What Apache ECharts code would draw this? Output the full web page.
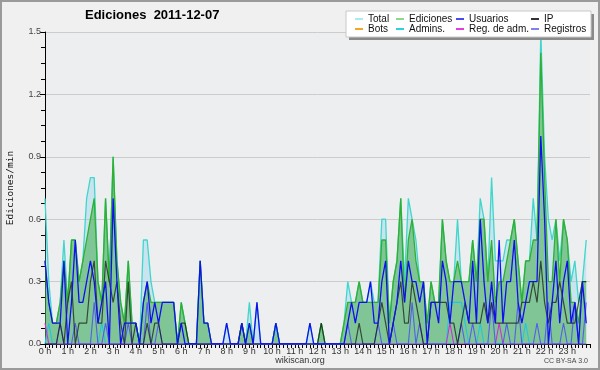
<!DOCTYPE html>
<html>
<head>
<meta charset="utf-8">
<script src="https://cdn.jsdelivr.net/npm/echarts@6/dist/echarts.min.js"></script>
<style>html,body{margin:0;padding:0;background:#f0f0f0}#c{width:600px;height:370px}</style>
</head>
<body>
<div id="c"></div>
<script>
// 10-minute bins, 144 per day (edits per minute)
const total = [
0.7,0.3,0.1,0.1,0.2,0.5, 0.2,0.5,0.5,0.3,0.4,0.7, 0.8,0.8,0.3,0.2,0.7,0.3, 0.9,0.4,0.2,0.1,0.4,0.1,
0.1,0,0.5,0.5,0.3,0.2, 0.2,0.2,0.2,0.2,0.2,0, 0.2,0.1,0,0,0,0.4, 0.1,0.1,0,0,0,0,
0.1,0,0,0,0.1,0, 0.2,0,0.2,0,0,0, 0,0.1,0,0,0,0, 0,0,0,0,0.1,0,
0,0.1,0,0,0,0, 0,0.1,0.3,0.2,0.2,0.3, 0.2,0.2,0.3,0.2,0.2,0.6, 0.6,0.1,0.3,0.4,0.7,0.3,
0.7,0.6,0.5,0.3,0.3,0.1, 0.3,0.2,0.2,0.6,0.4,0.3, 0.3,0.6,0.3,0.3,0.3,0.5, 0.3,0.7,0.6,0.3,0.8,0.4,
0.4,0.4,0.5,0.5,0.6,0.4, 0.2,0.4,0.4,0.7,0.5,1.5, 0.9,0.6,0.5,0.6,0.4,0.6, 0.5,0.3,0.4,0.2,0.3,0.5];
const ediciones = [
0.4,0.2,0.1,0.1,0.2,0.4, 0.2,0.5,0.5,0.3,0.4,0.5, 0.6,0.7,0.3,0.2,0.7,0.3, 0.9,0.4,0.2,0.1,0.4,0.1,
0.1,0,0.2,0.3,0.2,0.2, 0.2,0.2,0.2,0.2,0.2,0, 0.2,0.1,0,0,0,0.4, 0.1,0.1,0,0,0,0,
0,0,0,0,0.1,0, 0.1,0,0,0,0,0, 0,0.1,0,0,0,0, 0,0,0,0,0,0,
0,0.1,0,0,0,0, 0,0.1,0.2,0.2,0.2,0.3, 0.2,0.2,0.2,0.2,0.2,0.5, 0.5,0.1,0.3,0.4,0.7,0.2,
0.5,0.6,0.4,0.3,0.3,0.1, 0.3,0.2,0.2,0.6,0.4,0.3, 0.3,0.4,0.3,0.3,0.3,0.5, 0.3,0.6,0.6,0.3,0.5,0.2,
0.3,0.3,0.4,0.5,0.6,0.4, 0.2,0.4,0.4,0.5,0.5,1.4, 0.8,0.3,0.3,0.6,0.3,0.6, 0.5,0.2,0.2,0.1,0.3,0.3];
const usuarios = [
0.4,0.2,0.1,0.1,0.1,0.4, 0,0.2,0.5,0.2,0.2,0.3, 0.4,0.3,0.1,0.2,0.3,0, 0.7,0.3,0,0.1,0.1,0.1,
0.1,0,0.2,0.3,0.1,0.2, 0.1,0.2,0.2,0.2,0.2,0, 0.1,0,0,0,0,0.4, 0.1,0.1,0,0,0,0,
0.1,0,0,0,0.1,0, 0.1,0,0.2,0,0,0, 0,0.1,0,0,0,0, 0,0,0,0,0.1,0,
0,0,0,0,0,0, 0,0,0.1,0.2,0.1,0.2, 0.2,0.2,0.3,0.1,0.1,0.3, 0.4,0,0.1,0.2,0.4,0.2,
0.4,0.3,0.3,0.2,0.3,0, 0.2,0.2,0.1,0.4,0.3,0.1, 0.3,0.3,0.3,0.2,0.1,0.4, 0.1,0.6,0.3,0.1,0.3,0.1,
0.5,0.1,0.3,0.3,0.5,0.2, 0.1,0.2,0.3,0.3,0.3,1.0, 0.6,0,0.2,0.4,0.1,0.3, 0.4,0.1,0.2,0,0.3,0.1];
const ip = [
0,0,0,0,0.1,0, 0.2,0.3,0,0.1,0.1,0.1, 0.3,0.4,0.1,0.1,0.4,0.3, 0.2,0.3,0.1,0,0.3,0,
0.1,0,0,0.1,0,0.1, 0.1,0,0,0,0,0, 0.1,0.1,0,0,0,0, 0,0,0,0,0,0,
0,0,0,0,0.1,0, 0,0,0,0,0,0, 0,0,0,0,0,0, 0,0,0,0,0,0,
0,0.1,0,0,0,0, 0,0,0,0,0,0.1, 0,0,0,0,0.1,0.2, 0.1,0,0.1,0.2,0.3,0.1,
0.1,0.3,0.2,0.1,0,0, 0.2,0.2,0.2,0.2,0.2,0.1, 0.1,0,0.1,0.2,0.1,0.1, 0.1,0.1,0.2,0.1,0.2,0.1,
0.1,0.1,0.1,0.1,0.1,0.1, 0.2,0.2,0.2,0.3,0.2,0.4, 0.2,0.1,0.2,0.2,0.3,0.2, 0.1,0.1,0.1,0.2,0.3,0.3];
const registros = [
0,0,0,0,0.1,0, 0,0,0.1,0,0,0, 0,0.2,0,0,0.1,0, 0,0,0,0,0.1,0,
0,0,0,0.2,0,0, 0.1,0,0,0,0,0, 0,0,0,0,0,0, 0,0,0,0,0,0,
0,0,0,0,0,0, 0,0,0,0,0,0, 0,0,0,0,0,0, 0,0,0,0,0,0,
0,0,0,0,0,0, 0,0,0.1,0,0,0, 0,0,0,0,0.1,0, 0,0,0.1,0,0,0,
0,0.2,0,0.1,0,0, 0,0,0,0,0,0, 0,0,0.1,0,0,0.1, 0,0,0,0,0.2,0,
0,0,0.1,0,0,0.2, 0,0,0,0,0.1,0, 0,0.2,0,0,0,0.1, 0,0,0.2,0,0,0.2];
const admins = [
0,0.1,0,0,0,0, 0,0,0,0,0,0, 0,0,0,0.1,0,0, 0,0,0,0,0,0,
0,0,0,0,0,0, 0,0,0,0,0,0, 0,0,0,0,0,0, 0,0,0,0,0,0,
0,0,0,0,0,0, 0,0,0,0,0,0, 0,0.1,0,0,0,0, 0,0,0,0,0,0,
0,0,0,0,0,0, 0,0,0,0,0,0, 0,0,0,0,0,0, 0,0,0,0,0,0,
0,0,0,0,0,0, 0,0,0,0,0,0.2, 0.2,0.2,0.2,0.1,0,0, 0,0.1,0,0,0,0,
0,0,0,0,0,0, 0,0.1,0,0,0,0, 0,0,0,0,0,0, 0,0,0,0,0,0];
const regAdm = [
0.1,0,0,0,0,0, 0,0,0,0,0,0, 0,0,0,0,0,0, 0,0,0,0,0,0,
0,0,0,0,0,0, 0,0,0,0,0,0, 0,0,0,0,0,0, 0,0,0,0,0,0,
0,0,0,0,0,0, 0,0,0,0,0,0, 0,0,0,0,0,0, 0,0,0,0,0,0,
0,0,0,0,0,0, 0,0,0,0,0,0, 0,0,0,0,0,0, 0,0,0,0,0,0,
0,0,0,0,0,0, 0,0,0,0,0,0.1, 0,0,0,0,0,0, 0,0,0,0,0,0,
0.1,0,0,0,0,0, 0,0,0,0,0,0, 0,0,0,0,0,0, 0,0,0,0,0,0];
const bots = [];
const yTicks = [0, 0.3, 0.6, 0.9, 1.2, 1.5];
const titleText = 'Ediciones  2011-12-07';

const pairs = a => a.map((v, i) => [i, v]);
const FONT = 'Liberation Sans';
const chart = echarts.init(document.getElementById('c'), null, {renderer: 'canvas'});

function legendCol(left, items) {
  return {
    left: left, top: 14, orient: 'vertical', padding: 0, itemGap: 0,
    itemWidth: 8, itemHeight: 2, icon: 'rect', selectedMode: false, z: 20,
    textStyle: {fontSize: 10, fontFamily: FONT, color: '#111', lineHeight: 10},
    data: items.map(([n, c]) => ({name: n, itemStyle: {color: c}}))
  };
}

function lineSeries(name, data, color, width, z, area) {
  const s = {
    name, type: 'line', data: pairs(data), symbol: 'none', z: z,
    lineStyle: {color, width}, itemStyle: {color}, animation: false
  };
  if (area) s.areaStyle = {color: area, opacity: 1};
  return s;
}

chart.setOption({
  backgroundColor: '#f0f0f0',
  animation: false,
  title: {
    text: titleText, left: 85, top: 9, padding: 0,
    textStyle: {fontSize: 13, fontWeight: 'bold', fontFamily: FONT, color: '#000'}
  },
  legend: [
    legendCol(355, [['Total', '#a8ecec'], ['Bots', '#f5a623']]),
    legendCol(396, [['Ediciones', '#8cd88c'], ['Admins.', '#30d0e0']]),
    legendCol(456, [['Usuarios', '#4a4af0'], ['Reg. de adm.', '#e040e0']]),
    legendCol(531, [['IP', '#333333'], ['Registros', '#8080f0']])
  ],
  grid: {left: 45, right: 10, top: 32, bottom: 26, show: true, backgroundColor: '#eceef0',
    borderWidth: 0, containLabel: false, outerBoundsMode: 'none'},
  xAxis: {
    type: 'value', min: 0, max: 144, interval: 6,
    axisLine: {lineStyle: {color: '#000', width: 1}},
    axisTick: {length: 4, lineStyle: {color: '#000'}},
    minorTick: {show: true, splitNumber: 6, length: 4, lineStyle: {color: '#000'}},
    splitLine: {show: false},
    axisLabel: {fontSize: 9, fontFamily: FONT, color: '#333', margin: 3, showMaxLabel: false,
      formatter: v => (v / 6) + ' h'}
  },
  yAxis: {
    type: 'value', min: yTicks[0], max: yTicks[yTicks.length - 1], interval: yTicks[1] - yTicks[0],
    name: 'Ediciones/min', nameLocation: 'middle', nameGap: 29, nameRotate: 90,
    nameTextStyle: {fontSize: 9.5, fontFamily: 'DejaVu Sans Mono', color: '#111'},
    axisLine: {show: true, lineStyle: {color: '#000', width: 1}},
    axisTick: {show: true, length: 5, lineStyle: {color: '#000'}},
    minorTick: {show: true, splitNumber: 4, length: 4, lineStyle: {color: '#000'}},
    splitLine: {show: true, lineStyle: {color: '#cccccc', width: 1}},
    axisLabel: {fontSize: 9, fontFamily: FONT, color: '#444', margin: 4,
      formatter: v => v.toFixed(1)}
  },
  series: [
    lineSeries('Total', total, '#3fd6cc', 1.3, 2, 'rgba(120,205,235,0.30)'),
    lineSeries('Ediciones', ediciones, '#2fb02f', 1.3, 3, 'rgba(40,160,40,0.45)'),
    lineSeries('Bots', bots, '#f0a020', 1, 4),
    lineSeries('Admins.', admins, '#20c8dc', 1.1, 4),
    lineSeries('Reg. de adm.', regAdm, '#d030d0', 1.1, 4),
    lineSeries('Registros', registros, 'rgba(70,70,255,0.8)', 1.1, 5),
    lineSeries('IP', ip, 'rgba(20,20,20,0.7)', 1.2, 6),
    lineSeries('Usuarios', usuarios, '#1010ee', 1.3, 7)
  ],
  graphic: [
    {type: 'rect', z: 100, silent: true, shape: {x: 1, y: 1, width: 598, height: 368},
      style: {fill: 'none', stroke: '#9a9a9a', lineWidth: 2}},
    {type: 'rect', z: 15, silent: true, shape: {x: 349, y: 14, width: 245, height: 26},
      style: {fill: '#8a8a8a'}},
    {type: 'rect', z: 16, silent: true, shape: {x: 346, y: 11, width: 245, height: 26},
      style: {fill: '#ffffff', stroke: '#c8c8c8', lineWidth: 1}},
    {type: 'text', z: 20, left: 'center', top: 356, silent: true,
      style: {text: 'wikiscan.org', fontSize: 9, fontFamily: FONT, fill: '#333'}},
    {type: 'text', z: 20, right: 12, top: 358, silent: true,
      style: {text: 'CC BY-SA 3.0', fontSize: 7, fontFamily: FONT, fill: '#444'}}
  ]
});
</script>
</body>
</html>
